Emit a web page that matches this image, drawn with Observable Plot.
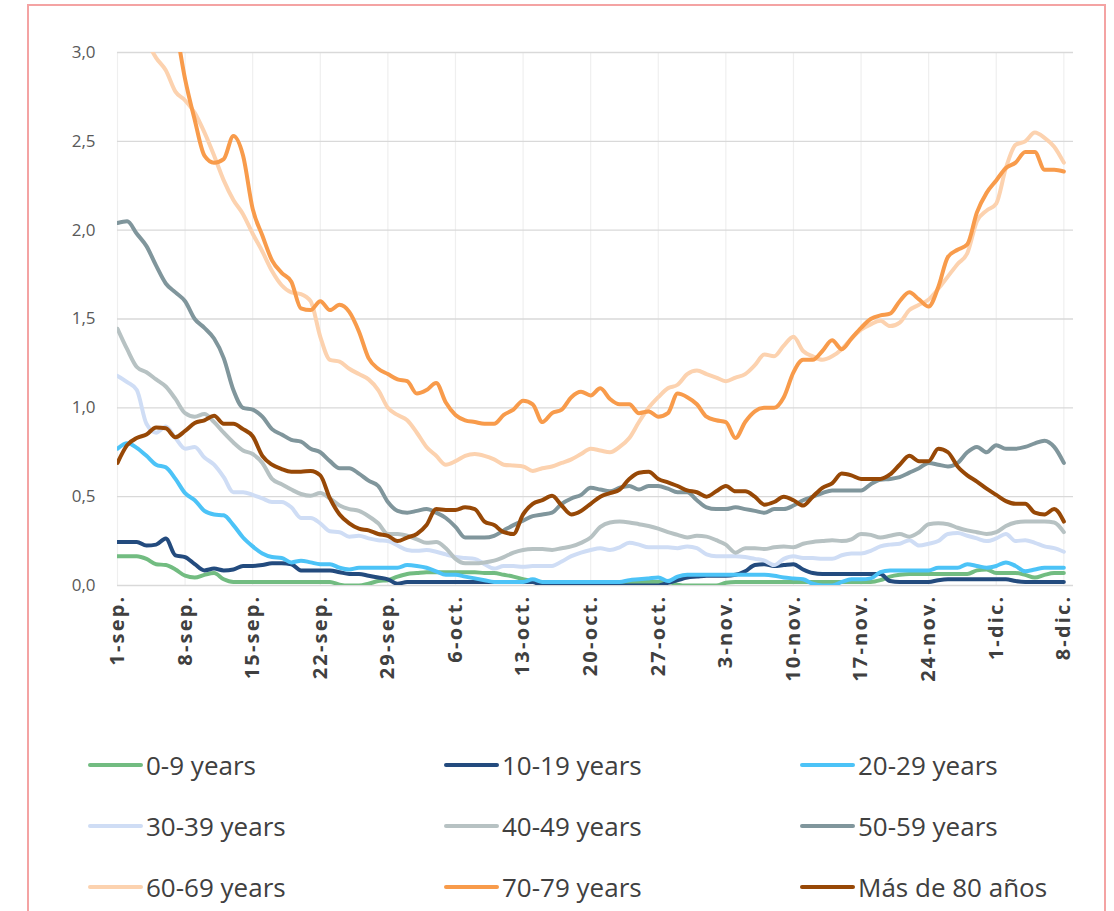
<!DOCTYPE html>
<html><head><meta charset="utf-8">
<script src="https://cdn.jsdelivr.net/npm/d3@7"></script>
<script src="https://cdn.jsdelivr.net/npm/@observablehq/plot@0.6"></script>
<style>
body{margin:0;background:#fff;width:1114px;height:911px;overflow:hidden;position:relative;font-family:"Open Sans",sans-serif;}
#frame{position:absolute;left:27px;top:4px;width:1079px;height:1000px;border:2px solid #F4A3A3;box-sizing:border-box;}
#chart{position:absolute;left:0;top:0;}
#chart svg{font-family:"Open Sans",sans-serif;}
#chart g[aria-label="x-axis tick label"] text{letter-spacing:2.2px;}
#legend{position:absolute;left:88px;top:734px;display:grid;grid-template-columns:356px 356px 356px;grid-auto-rows:61px;}
.item{display:flex;align-items:center;font-size:26px;color:#404040;height:61px;white-space:nowrap}
.sw{width:55px;height:4px;border-radius:2px;margin-right:3px;flex:none}
</style></head><body>
<div id="frame"></div><div id="chart"></div><div id="legend"></div>
<script>
const seriesNames = ["0-9 years","10-19 years","20-29 years","30-39 years","40-49 years","50-59 years","60-69 years","70-79 years","Más de 80 años"];
const seriesColors = ["#72BC81","#234B7E","#4CC3F7","#CFDDF5","#B7C2C3","#80969C","#FCD2AF","#F89B4B","#974806"];
const startDate = Date.UTC(2020, 8, 1);
const tickLabels = ["1-sep.","8-sep.","15-sep.","22-sep.","29-sep.","6-oct.","13-oct.","20-oct.","27-oct.","3-nov.","10-nov.","17-nov.","24-nov.","1-dic.","8-dic."];
const yTicks = [0, 0.5, 1, 1.5, 2, 2.5, 3];

const v0_9 = [0.165,0.165,0.165,0.15,0.12,0.115,0.09,0.055,0.045,0.06,
0.07,0.035,0.02,0.02,0.02,0.02,0.02,0.02,0.02,0.02,
0.02,0.02,0.02,0.005,0.0,0.0,0.01,0.025,0.03,0.05,
0.065,0.07,0.075,0.075,0.075,0.075,0.075,0.075,0.07,0.07,
0.06,0.05,0.035,0.025,0.02,0.02,0.02,0.02,0.02,0.02,
0.02,0.02,0.02,0.02,0.02,0.02,0.02,0.02,0.005,0.0,
0.0,0.0,0.0,0.015,0.02,0.02,0.02,0.02,0.02,0.02,
0.02,0.02,0.02,0.02,0.02,0.02,0.02,0.02,0.02,0.03,
0.05,0.06,0.065,0.065,0.065,0.065,0.065,0.065,0.065,0.085,
0.09,0.07,0.07,0.07,0.06,0.045,0.06,0.07,0.07];
const v10_19 = [0.245,0.245,0.245,0.225,0.23,0.265,0.17,0.16,0.12,0.085,
0.095,0.085,0.09,0.11,0.11,0.115,0.125,0.125,0.12,0.085,
0.085,0.085,0.085,0.075,0.065,0.065,0.055,0.045,0.035,0.01,
0.02,0.02,0.02,0.02,0.02,0.02,0.02,0.02,0.02,0.02,
0.02,0.02,0.02,0.02,0.0,0.0,0.0,0.0,0.0,0.0,
0.0,0.0,0.0,0.0,0.0,0.0,0.0,0.015,0.03,0.045,
0.05,0.055,0.055,0.055,0.06,0.08,0.115,0.12,0.11,0.115,
0.12,0.09,0.07,0.065,0.065,0.065,0.065,0.065,0.065,0.065,
0.025,0.02,0.02,0.02,0.02,0.03,0.035,0.035,0.035,0.035,
0.035,0.035,0.035,0.025,0.02,0.02,0.02,0.02,0.02];
const v20_29 = [0.77,0.80,0.775,0.73,0.68,0.665,0.60,0.52,0.48,0.42,
0.40,0.395,0.34,0.27,0.22,0.18,0.16,0.155,0.13,0.14,
0.13,0.12,0.12,0.10,0.09,0.10,0.10,0.10,0.10,0.10,
0.115,0.11,0.10,0.08,0.06,0.06,0.05,0.04,0.03,0.02,
0.02,0.02,0.02,0.035,0.02,0.02,0.02,0.02,0.02,0.02,
0.02,0.02,0.02,0.03,0.035,0.04,0.045,0.025,0.05,0.06,
0.06,0.06,0.06,0.06,0.06,0.06,0.06,0.06,0.055,0.045,
0.04,0.035,0.01,0.0,0.0,0.02,0.035,0.035,0.04,0.075,
0.085,0.085,0.085,0.085,0.085,0.10,0.10,0.10,0.12,0.11,
0.10,0.11,0.13,0.11,0.08,0.09,0.10,0.10,0.10];
const v30_39 = [1.18,1.145,1.10,0.91,0.86,0.895,0.83,0.77,0.78,0.72,
0.68,0.61,0.525,0.525,0.51,0.49,0.47,0.47,0.44,0.38,
0.38,0.35,0.305,0.30,0.275,0.28,0.265,0.255,0.25,0.225,
0.20,0.195,0.20,0.19,0.175,0.16,0.155,0.15,0.12,0.095,
0.11,0.11,0.105,0.11,0.11,0.11,0.135,0.165,0.185,0.20,
0.21,0.20,0.215,0.24,0.23,0.215,0.215,0.215,0.21,0.22,
0.21,0.175,0.165,0.165,0.165,0.16,0.15,0.14,0.115,0.15,
0.165,0.155,0.155,0.15,0.15,0.17,0.18,0.18,0.195,0.22,
0.23,0.235,0.255,0.225,0.235,0.25,0.29,0.295,0.28,0.265,
0.25,0.265,0.29,0.25,0.255,0.24,0.22,0.21,0.19];
const v40_49 = [1.445,1.33,1.23,1.20,1.16,1.12,1.05,0.97,0.95,0.965,
0.92,0.86,0.805,0.76,0.74,0.69,0.60,0.57,0.54,0.515,
0.505,0.52,0.49,0.45,0.43,0.42,0.39,0.35,0.29,0.29,
0.28,0.26,0.24,0.245,0.21,0.15,0.125,0.125,0.13,0.14,
0.16,0.185,0.20,0.205,0.205,0.20,0.21,0.22,0.24,0.27,
0.33,0.355,0.36,0.355,0.345,0.335,0.32,0.30,0.285,0.27,
0.28,0.275,0.255,0.23,0.185,0.21,0.21,0.205,0.215,0.22,
0.215,0.235,0.245,0.25,0.255,0.25,0.26,0.29,0.285,0.27,
0.28,0.29,0.275,0.30,0.345,0.35,0.345,0.325,0.31,0.30,
0.29,0.30,0.335,0.355,0.36,0.36,0.36,0.355,0.30];
const v50_59 = [2.04,2.05,1.98,1.91,1.80,1.70,1.65,1.60,1.50,1.45,
1.39,1.28,1.10,1.00,0.99,0.95,0.88,0.85,0.82,0.81,
0.77,0.75,0.70,0.66,0.66,0.63,0.59,0.56,0.47,0.42,
0.41,0.42,0.43,0.41,0.38,0.33,0.27,0.27,0.27,0.28,
0.31,0.34,0.365,0.39,0.40,0.41,0.46,0.49,0.51,0.55,
0.54,0.53,0.55,0.56,0.54,0.56,0.56,0.545,0.525,0.525,
0.48,0.44,0.43,0.43,0.44,0.43,0.42,0.41,0.43,0.43,
0.45,0.48,0.50,0.52,0.535,0.535,0.535,0.535,0.57,0.595,
0.60,0.61,0.635,0.66,0.69,0.68,0.67,0.69,0.75,0.78,
0.75,0.79,0.77,0.77,0.78,0.80,0.815,0.78,0.69];
const v60_69 = [3.40,3.30,3.20,3.07,2.97,2.90,2.78,2.73,2.66,2.55,
2.42,2.28,2.17,2.09,1.98,1.88,1.77,1.69,1.65,1.64,
1.60,1.40,1.27,1.26,1.22,1.19,1.16,1.10,1.00,0.96,
0.93,0.86,0.78,0.73,0.68,0.70,0.73,0.74,0.73,0.71,
0.68,0.675,0.67,0.645,0.66,0.67,0.69,0.71,0.74,0.77,
0.76,0.75,0.78,0.83,0.92,1.00,1.06,1.11,1.13,1.19,
1.21,1.19,1.17,1.15,1.17,1.19,1.24,1.30,1.29,1.35,
1.40,1.32,1.29,1.27,1.29,1.33,1.39,1.44,1.47,1.49,
1.46,1.48,1.55,1.58,1.61,1.67,1.74,1.81,1.87,2.05,
2.11,2.15,2.35,2.48,2.50,2.55,2.52,2.47,2.38];
const v70_79 = [3.90,3.85,3.75,3.65,3.50,3.35,3.15,2.85,2.62,2.42,
2.38,2.40,2.53,2.42,2.12,1.97,1.83,1.76,1.71,1.56,
1.55,1.60,1.55,1.58,1.54,1.43,1.28,1.22,1.19,1.16,
1.15,1.08,1.10,1.14,1.03,0.96,0.93,0.92,0.91,0.91,
0.96,0.99,1.04,1.02,0.92,0.97,0.99,1.06,1.09,1.07,
1.11,1.05,1.02,1.02,0.97,0.98,0.95,0.97,1.08,1.06,
1.02,0.95,0.93,0.92,0.83,0.92,0.98,1.00,1.00,1.06,
1.20,1.27,1.27,1.32,1.38,1.33,1.39,1.45,1.50,1.52,
1.53,1.60,1.65,1.61,1.57,1.68,1.85,1.89,1.92,2.10,
2.21,2.28,2.35,2.38,2.44,2.44,2.34,2.34,2.33];
const v80 = [0.69,0.79,0.83,0.85,0.89,0.885,0.835,0.87,0.915,0.93,
0.955,0.91,0.91,0.88,0.84,0.73,0.68,0.655,0.64,0.64,
0.645,0.62,0.49,0.40,0.35,0.32,0.31,0.29,0.28,0.25,
0.27,0.29,0.34,0.43,0.425,0.425,0.44,0.43,0.36,0.34,
0.30,0.29,0.40,0.46,0.48,0.505,0.45,0.40,0.42,0.46,
0.50,0.52,0.54,0.60,0.635,0.64,0.60,0.58,0.56,0.535,
0.525,0.50,0.53,0.56,0.53,0.53,0.50,0.455,0.47,0.50,
0.48,0.45,0.50,0.55,0.575,0.63,0.62,0.60,0.60,0.60,
0.625,0.68,0.73,0.70,0.70,0.77,0.75,0.67,0.62,0.585,
0.545,0.51,0.475,0.46,0.46,0.41,0.40,0.43,0.36];

const seriesValues = [v0_9, v10_19, v20_29, v30_39, v40_49, v50_59, v60_69, v70_79, v80];

const dayMs = 86400000;
const rows = [];
seriesValues.forEach((vals, i) => {
  vals.forEach((v, d) => rows.push({date: new Date(startDate + d * dayMs), value: v, series: seriesNames[i]}));
});
const tickDates = tickLabels.map((_, i) => new Date(startDate + 7 * i * dayMs));
const labelOf = new Map(tickDates.map((d, i) => [+d, tickLabels[i]]));

const chart = Plot.plot({
  width: 1114,
  height: 700,
  marginLeft: 117,
  marginRight: 41,
  marginTop: 52,
  marginBottom: 115,
  x: {type: "utc", domain: [new Date(startDate), new Date(startDate + 99 * dayMs)]},
  y: {domain: [0, 3]},
  color: {domain: seriesNames, range: seriesColors},
  marks: [
    Plot.ruleX(tickDates, {stroke: "#EFEFEF", strokeWidth: 1.2}),
    Plot.ruleY(yTicks, {stroke: "#D9D9D9", strokeWidth: 1.3}),
    Plot.axisY({ticks: yTicks, label: null, tickSize: 0, tickPadding: 22, tickFormat: d => d.toFixed(1).replace(".", ","), fontSize: 17, fill: "#595959"}),
    Plot.axisX({ticks: tickDates, label: null, tickSize: 0, tickPadding: 9, tickRotate: -90, tickFormat: d => labelOf.get(+d), fontSize: 20, fontWeight: "bold", fill: "#404040"}),
    Plot.line(rows, {x: "date", y: "value", z: "series", stroke: "series", strokeWidth: 4, curve: "monotone-x", clip: true, strokeLinejoin: "round", strokeLinecap: "round"})
  ]
});
document.getElementById("chart").appendChild(chart);

const legend = document.getElementById("legend");
seriesNames.forEach((name, i) => {
  const item = document.createElement("div");
  item.className = "item";
  const sw = document.createElement("span");
  sw.className = "sw";
  sw.style.background = seriesColors[i];
  item.appendChild(sw);
  item.appendChild(document.createTextNode(name));
  legend.appendChild(item);
});
</script></body></html>
